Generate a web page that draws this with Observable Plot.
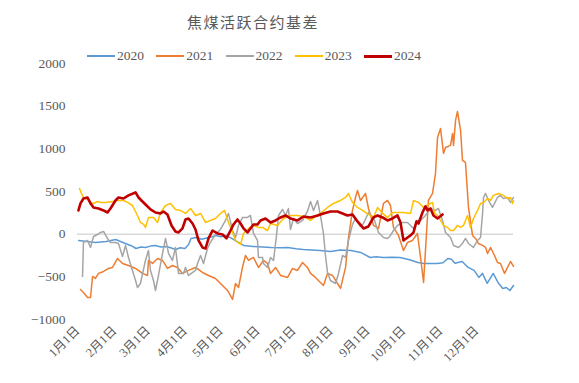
<!DOCTYPE html>
<html>
<head>
<meta charset="utf-8">
<script src="https://cdn.jsdelivr.net/npm/d3@7"></script>
<script src="https://cdn.jsdelivr.net/npm/@observablehq/plot@0.6"></script>
<style>
  html, body { margin: 0; padding: 0; background: #fff; }
  #wrap { position: relative; width: 579px; height: 383px; overflow: hidden; font-family: "Liberation Serif", "Noto Sans CJK SC", serif; }
  #title { position: absolute; left: 0; width: 506px; top: 12px; text-align: center; font-family: "Noto Sans CJK SC", sans-serif; font-size: 15px; letter-spacing: 1.5px; color: #595959; line-height: 20px; }
  #legend { position: absolute; top: 48px; left: 0; width: 579px; height: 16px; font-size: 13.5px; color: #595959; }
  .item { position: absolute; top: 0; height: 16px; display: flex; align-items: center; }
  .sw { width: 28px; height: 2px; margin-right: 2px; }
  #chart { position: absolute; left: 0; top: 0; }
</style>
</head>
<body>
<div id="wrap">
  <div id="chart"></div>
  <div id="title">焦煤活跃合约基差</div>
  <div id="legend"></div>
</div>
<script>
// Values: [day of year, basis]
const s2020 = [[1,-75],[8,-85],[15,-97],[24,-85],[32,-62],[40,-110],[45,-135],[49,-168],[53,-150],[57,-156],[61,-140],[65,-132],[70,-150],[74,-144],[78,-160],[82,-179],[86,-160],[90,-168],[93,-120],[95,-50],[99,-39],[104,-60],[110,-39],[116,-15],[120,-30],[124,-15],[128,-40],[134,-90],[139,-132],[147,-144],[155,-150],[162,-156],[170,-160],[176,-156],[183,-170],[189,-179],[196,-185],[203,-191],[212,-203],[220,-185],[229,-191],[237,-214],[245,-273],[250,-265],[256,-273],[263,-270],[270,-273],[278,-300],[285,-332],[290,-343],[296,-345],[301,-343],[306,-335],[310,-285],[313,-295],[316,-340],[322,-320],[327,-390],[332,-425],[336,-507],[339,-460],[343,-577],[348,-460],[352,-566],[356,-636],[359,-625],[362,-660],[365,-601]];
const s2021 = [[2.5,-648],[5,-683],[8.4,-742],[10.9,-742],[12.6,-496],[15,-519],[17.6,-460],[21.8,-437],[26,-402],[29.3,-390],[33.5,-285],[37.7,-343],[42.7,-367],[48.6,-402],[54.4,-460],[58.6,-484],[59.4,-308],[62.8,-343],[67,-285],[71.2,-308],[75.3,-402],[79.5,-367],[83.7,-390],[87.9,-460],[92.9,-425],[98.8,-390],[104.6,-449],[109.7,-484],[115.5,-519],[121.4,-601],[125.6,-660],[129.8,-765],[132.3,-578],[134.8,-625],[138.1,-390],[140.6,-250],[143.2,-308],[147.3,-273],[151.5,-390],[155.7,-308],[159.1,-343],[161.6,-460],[165.8,-390],[170,-484],[175.9,-507],[180,-402],[184.2,-425],[188.4,-332],[192.5,-390],[195.1,-460],[199.2,-507],[203.4,-566],[205.9,-601],[209.3,-460],[213.5,-484],[217.7,-578],[220.2,-636],[224.4,-390],[226.9,-39],[230.2,278],[232.7,430],[234.4,512],[236.9,395],[241.1,477],[243.6,301],[247.8,102],[252,67],[256.2,360],[259.5,395],[262,336],[264.5,79],[268.7,-15],[272.9,-191],[276.3,-97],[280.4,-74],[284.6,8],[287.2,-273],[289.7,-566],[291.3,-191],[293.8,395],[297.2,477],[299.7,711],[301.4,1133],[303.9,1239],[306.4,946],[308.1,1016],[312.3,1040],[314,1180],[314.8,1040],[316.5,1333],[318.1,1438],[320.7,1215],[322.3,864],[324.8,840],[327.3,313],[330.7,-15],[333.2,-50],[335.7,-109],[339.1,-132],[341.6,-156],[343.3,-226],[345.8,-156],[349.1,-250],[351.6,-332],[354.1,-343],[357.5,-460],[360,-390],[362.5,-320],[365,-378]];
const s2022 = [[4.2,-497],[5,-97],[8.4,-74],[10.9,-156],[13.4,-27],[16.7,-4],[19.3,20],[21.8,32],[25.1,-50],[27.6,-97],[31.8,-97],[34.3,-109],[37.7,-261],[40.2,-132],[42.7,-273],[46,-425],[48.6,-543],[50.2,-625],[52.7,-578],[56.9,-308],[59.4,-191],[61.1,-425],[63.6,-543],[65.3,-660],[67.8,-484],[71.2,-226],[73.7,-50],[76.2,-226],[79.5,-308],[82,-156],[84.6,-460],[88.7,-460],[90.4,-390],[92.9,-484],[98.8,-425],[100.5,-343],[103,-250],[105.5,-343],[108.8,-168],[111.3,-97],[115.5,-4],[119.7,55],[123.9,161],[126.4,243],[129.8,43],[132.3,-39],[134.8,102],[138.1,196],[142.3,196],[144.8,219],[147.3,8],[150.7,-74],[151.5,-273],[154.9,-273],[155.7,-343],[159.1,-390],[161.6,-273],[164.1,-308],[166.6,-15],[168.3,219],[171.6,290],[174.1,219],[176.6,301],[178.3,55],[180.8,184],[184.2,125],[188.4,161],[192.5,266],[195.1,383],[197.6,278],[200.9,395],[203.4,219],[205.9,8],[207.6,-250],[209.3,-449],[211.8,-543],[216,-578],[218.5,-460],[221.9,-250],[224.4,-273],[226.9,-74],[230.2,114],[232.7,184],[236.9,90],[239.4,125],[243.6,254],[247.8,196],[252,20],[256.2,-39],[259.5,-50],[262,-15],[264.5,43],[267.9,102],[272.1,137],[276.3,137],[281.3,67],[284.6,161],[287.2,161],[291.3,219],[295.5,301],[299.7,278],[302.2,301],[305.6,161],[308.1,20],[312.3,-39],[314.8,-132],[319,-156],[322.3,-109],[324.8,-50],[327.3,-109],[331.5,-156],[334.9,-74],[337.4,-39],[339.1,243],[339.9,430],[341.6,477],[344.1,395],[347.4,313],[351.6,430],[354.1,454],[356.6,418],[360,430],[362.5,372],[365,430]];
const s2023 = [[1.7,535],[3.3,477],[5,430],[8.4,407],[10.9,372],[13.4,360],[16.7,383],[19.3,372],[23.4,372],[29.3,383],[33.5,395],[38.5,395],[41.9,372],[46,336],[50.2,219],[52.7,137],[55.3,114],[56.9,79],[59.4,196],[63.6,196],[67,137],[69.5,254],[73.7,336],[77.9,360],[82,290],[86.2,278],[90.4,243],[94.6,301],[98.8,219],[103,243],[107.2,137],[111.3,161],[115.5,184],[119.7,243],[123.1,278],[126.4,137],[129.8,20],[132.3,-74],[136.5,-121],[139,8],[143.2,67],[147.3,102],[151.5,79],[154.9,79],[159.1,43],[161.6,125],[167.4,102],[172.5,184],[178.3,219],[184.2,219],[189.2,207],[195.1,161],[199.2,207],[203.4,243],[209.3,313],[214.3,360],[220.2,395],[224.4,430],[226.9,477],[230.2,372],[234.4,313],[238.6,278],[243.6,231],[247.8,196],[251.2,313],[255.4,243],[259.5,196],[263.7,254],[267.9,254],[272.9,254],[278.8,243],[281.3,395],[285.5,372],[289.7,313],[293.8,348],[297.2,372],[298.9,243],[301.4,219],[303.9,161],[306.4,102],[309.8,79],[312.3,43],[314.8,43],[318.1,102],[320.7,79],[323.1,102],[326.5,219],[329,79],[331.5,184],[334.9,278],[337.4,360],[339.9,372],[343.3,418],[345.8,395],[348.2,454],[352.4,477],[356.6,454],[360,418],[362.5,430],[364.2,360],[365,395]];
const s2024 = [[0.8,278],[2.5,360],[5,418],[8.4,430],[10.9,360],[13.4,313],[17.6,301],[21.8,278],[25.1,254],[27.6,301],[31.8,395],[34.3,430],[38.5,418],[42.7,454],[48.6,489],[51.1,430],[54.4,383],[57.8,336],[61.1,290],[65.3,254],[69.5,243],[72,266],[75.3,231],[78.7,102],[82,32],[84.6,20],[87.9,67],[90.4,172],[92.9,184],[96.3,125],[98.8,55],[101.3,-74],[104.6,-156],[107.2,-168],[109.7,-50],[113,43],[117.2,8],[121.4,-4],[124.7,-50],[128.1,43],[130.6,114],[133.9,172],[136.5,125],[139,67],[142.3,20],[144.8,67],[147.3,114],[150.7,114],[153.2,161],[157.4,184],[161.6,137],[165.8,161],[170,196],[174.1,219],[178.3,184],[184.2,161],[189.2,207],[195.1,196],[201,219],[205.9,243],[211.8,266],[217.7,266],[221.9,243],[226,219],[230.2,231],[234.4,149],[239.4,67],[243.6,90],[247.8,196],[251.2,219],[255.4,196],[259.5,161],[263.7,184],[267.9,219],[270.4,137],[272.9,-74],[276.3,-39],[278.8,-15],[281.3,20],[283.8,149],[285.5,125],[288.8,254],[291.3,325],[293,278],[295.5,301],[298,219],[301.4,184],[305.6,231]];

const seriesNames = ["2020", "2021", "2022", "2023", "2024"];
const seriesData = [s2020, s2021, s2022, s2023, s2024];
const seriesColors = ["#5B9BD5", "#ED7D31", "#A5A5A5", "#FFC000", "#C00000"];
const seriesWidths = [1.5, 1.5, 1.5, 1.5, 2.6];

const monthDays = [0, 31, 59, 90, 120, 151, 181, 212, 243, 273, 304, 334];
const monthLabels = ["1月1日","2月1日","3月1日","4月1日","5月1日","6月1日","7月1日","8月1日","9月1日","10月1日","11月1日","12月1日"];
const yTicks = [-1000, -500, 0, 500, 1000, 1500, 2000];

const lineMarks = seriesData.map((data, i) =>
  Plot.line(data, {x: d => d[0], y: d => d[1], stroke: seriesColors[i], strokeWidth: seriesWidths[i], strokeLinejoin: "round", strokeLinecap: "round"})
);

const chart = Plot.plot({
  width: 579,
  height: 383,
  marginTop: 63,
  marginBottom: 64,
  marginLeft: 77,
  marginRight: 66,
  style: {fontFamily: '"Liberation Serif", "Noto Sans CJK SC", serif', background: "#fff", color: "#595959"},
  x: {domain: [0, 365]},
  y: {domain: [-1000, 2000]},
  marks: [
    Plot.ruleY([0], {stroke: "#d9d9d9", strokeWidth: 1.5}),
    ...lineMarks,
    Plot.axisY(yTicks, {tickSize: 0, tickPadding: 12, label: null, fontSize: 13.5, fill: "#595959", tickFormat: d => d < 0 ? "\u2212" + Math.abs(d) : String(d)}),
    Plot.axisX(monthDays, {tickSize: 0, tickPadding: 9, tickRotate: -45, label: null, fontSize: 12.5, fill: "#595959", tickFormat: (d, i) => monthLabels[i]})
  ]
});
document.getElementById("chart").appendChild(chart);

const legend = document.getElementById("legend");
seriesNames.forEach((name, i) => {
  const item = document.createElement("div");
  item.className = "item";
  item.style.left = (87 + i * 69.25) + "px";
  const sw = document.createElement("div");
  sw.className = "sw";
  sw.style.background = seriesColors[i];
  sw.style.height = (i === 4 ? 3 : 2) + "px";
  const t = document.createElement("span");
  t.textContent = name;
  item.appendChild(sw);
  item.appendChild(t);
  legend.appendChild(item);
});
</script>
</body>
</html>
